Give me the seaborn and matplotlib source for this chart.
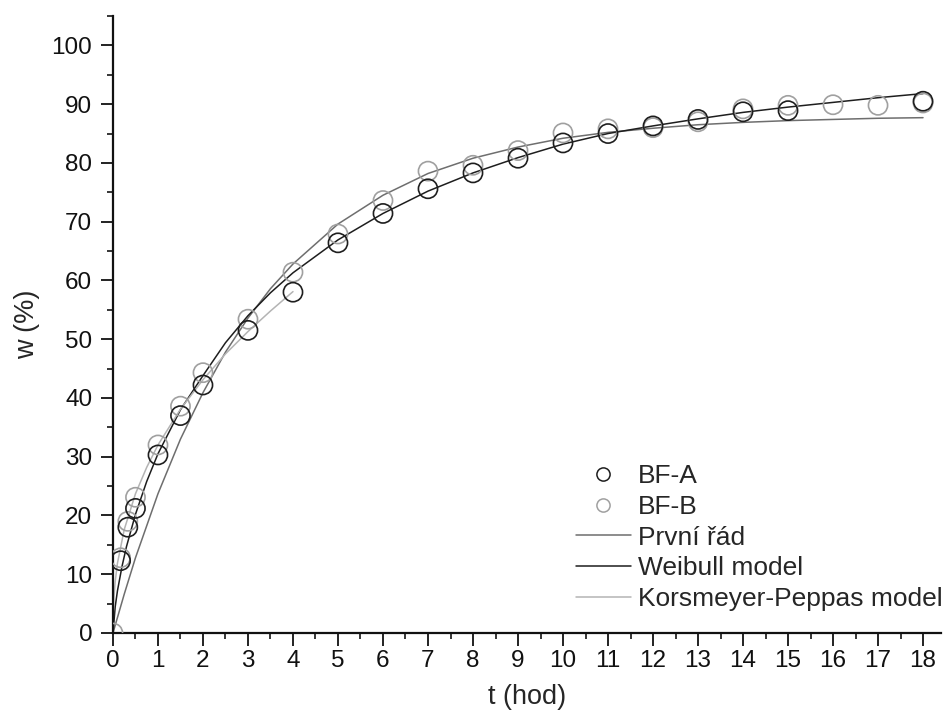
import matplotlib
matplotlib.use("Agg")
import matplotlib.pyplot as plt
from matplotlib.ticker import MultipleLocator
from matplotlib.lines import Line2D
import seaborn as sns

sns.set_style("ticks")
plt.rcParams['font.family'] = ['Liberation Sans', 'DejaVu Sans']

# measured release data
t_a = [0.17, 0.33, 0.5, 1, 1.5, 2, 3, 4, 5, 6, 7, 8, 9, 10, 11, 12, 13, 14, 15, 18]
w_a = [12.3, 18.0, 21.2, 30.3, 37.0, 42.2, 51.5, 58.0, 66.4, 71.4, 75.6, 78.3, 80.8,
       83.4, 85.0, 86.3, 87.4, 88.7, 88.9, 90.5]
t_b = [0, 0.17, 0.33, 0.5, 1, 1.5, 2, 3, 4, 5, 6, 7, 8, 9, 10, 11, 12, 13, 14, 15, 16, 17, 18]
w_b = [0, 12.8, 19.0, 23.1, 32.0, 38.6, 44.3, 53.4, 61.4, 67.9, 73.6, 78.6, 79.6, 82.1,
       85.1, 85.8, 86.0, 87.0, 89.2, 89.8, 89.9, 89.8, 90.2]

# model curves
t_fo = [0, 0.25, 0.5, 1, 1.5, 2, 2.5, 3, 3.5, 4, 5, 6, 7, 8, 9, 10, 11, 12, 13, 14, 15, 16, 17, 18]
w_fo = [0, 6.6, 12.8, 23.7, 33.0, 40.9, 47.8, 53.6, 58.6, 62.8, 69.6, 74.5, 78.2, 80.8,
        82.7, 84.2, 85.2, 85.9, 86.5, 86.9, 87.2, 87.4, 87.6, 87.7]
t_wb = [0, 0.05, 0.1, 0.2, 0.3, 0.5, 0.75, 1, 1.5, 2, 2.5, 3, 3.5, 4, 5, 6, 7, 8, 9, 10,
        11, 12, 13, 14, 15, 16, 17, 18]
w_wb = [0, 4.5, 7.2, 11.3, 14.7, 20.2, 25.8, 30.5, 38.0, 43.8, 49.4, 54.0, 57.9, 61.3,
        66.9, 71.4, 75.2, 78.3, 80.9, 83.2, 85.0, 86.3, 87.5, 88.6, 89.5, 90.3, 91.1, 91.8]
t_kp = [0, 0.01, 0.02, 0.05, 0.1, 0.25, 0.5, 0.75, 1, 1.5, 2, 2.5, 3, 3.5, 4]
w_kp = [0, 4.4, 6.0, 8.8, 11.9, 17.6, 23.7, 28.2, 32.0, 38.1, 43.1, 47.5, 51.3, 54.8, 58.1]

fig = plt.figure(figsize=(9.47, 7.22), dpi=100)
ax = fig.add_axes([0.1193, 0.1233, 0.8744, 0.8545])

l1 = sns.lineplot(x=t_fo, y=w_fo, ax=ax, color='#6e6e6e', lw=1.1, sort=False).lines[-1]
l2 = sns.lineplot(x=t_wb, y=w_wb, ax=ax, color='#1e1e1e', lw=1.1, sort=False).lines[-1]
l3 = sns.lineplot(x=t_kp, y=w_kp, ax=ax, color='#b4b4b4', lw=1.1, sort=False).lines[-1]

sns.scatterplot(x=t_b, y=w_b, ax=ax, marker='o', s=190, facecolor='none',
                edgecolor='#a0a0a0', linewidth=1.2, zorder=3)
sns.scatterplot(x=t_a, y=w_a, ax=ax, marker='o', s=190, facecolor='none',
                edgecolor='#1e1e1e', linewidth=1.2, zorder=4)

ax.set_xlim(0, 18.4)
ax.set_ylim(0, 105)
ax.xaxis.set_major_locator(MultipleLocator(1))
ax.xaxis.set_minor_locator(MultipleLocator(0.5))
ax.set_yticks(range(0, 101, 10))
ax.yaxis.set_minor_locator(MultipleLocator(5))
ax.tick_params(which='major', direction='out', length=9, width=1.3, labelsize=17.5,
               colors='#111')
ax.tick_params(axis='y', which='major', pad=6)
ax.tick_params(axis='x', which='major', pad=3)
ax.tick_params(which='minor', direction='out', length=4.5, width=1.3)
for s in ['left', 'bottom']:
    ax.spines[s].set_linewidth(1.6)
    ax.spines[s].set_color('#111')
sns.despine(ax=ax)

ax.set_xlabel('t (hod)', fontsize=19.5, labelpad=9)
ax.set_ylabel('w (%)', fontsize=19.5, labelpad=8)

h_a = Line2D([], [], ls='', marker='o', ms=9.5, mfc='none', mec='#1e1e1e', mew=1.1)
h_b = Line2D([], [], ls='', marker='o', ms=9.5, mfc='none', mec='#a0a0a0', mew=1.1)
ax.legend([h_a, h_b, l1, l2, l3],
          ['BF-A', 'BF-B', 'První řád', 'Weibull model', 'Korsmeyer-Peppas model'],
          loc='lower right', bbox_to_anchor=(1.002, 0.036), frameon=False, fontsize=19,
          handlelength=2.1, handletextpad=0.27, labelspacing=0.25, borderpad=0,
          borderaxespad=0)

fig.savefig('out.png', dpi=100)
